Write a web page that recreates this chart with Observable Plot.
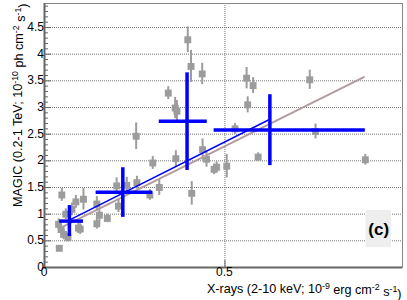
<!DOCTYPE html>
<html>
<head>
<meta charset="utf-8">
<script src="https://cdn.jsdelivr.net/npm/d3@7"></script>
<script src="https://cdn.jsdelivr.net/npm/@observablehq/plot@0.6"></script>
<style>
  html, body { margin: 0; padding: 0; background: #fff; }
</style>
</head>
<body>
<div id="chart"></div>
<script>
// Gray points: X-rays flux, MAGIC flux, MAGIC error
const ptX = [0.041,0.039,0.048,0.046,0.053,0.059,0.065,0.076,0.087,0.094,0.099,0.108,0.145,0.145,0.152,0.174,0.200,0.205,0.228,0.256,0.254,0.292,0.300,0.318,0.343,0.362,0.367,0.364,0.397,0.406,0.437,0.408,0.438,0.449,0.470,0.477,0.505,0.528,0.560,0.578,0.563,0.592,0.735,0.751,0.889];
const ptY = [0.36,0.81,1.36,0.71,0.62,1.00,0.56,1.09,1.23,0.74,0.72,1.28,0.82,1.19,0.98,0.92,1.53,1.15,1.54,1.59,2.46,1.36,1.96,1.50,3.27,2.99,2.93,2.04,4.27,3.77,3.63,1.39,2.21,2.03,1.84,1.88,1.90,2.60,3.55,3.41,3.05,2.07,3.52,2.55,2.02];
const ptE = [0.04,0.10,0.12,0.10,0.10,0.10,0.08,0.12,0.12,0.10,0.10,0.20,0.10,0.14,0.12,0.08,0.15,0.12,0.15,0.12,0.25,0.10,0.12,0.15,0.12,0.20,0.20,0.15,0.24,0.30,0.20,0.22,0.20,0.15,0.10,0.10,0.22,0.10,0.20,0.15,0.15,0.08,0.18,0.14,0.10];

// Binned averages (blue crosses)
const binX  = [0.069, 0.217, 0.395, 0.6245];
const binX1 = [0.042, 0.143, 0.318, 0.470];
const binX2 = [0.108, 0.300, 0.451, 0.889];
const binY  = [0.87, 1.41, 2.74, 2.58];
const binY1 = [0.58, 0.94, 1.82, 1.91];
const binY2 = [1.16, 1.87, 3.65, 3.24];

// Linear fits (end points)
const blueFitX = [0.066, 0.6245];
const blueFitY = [0.88, 2.78];
const brownFitX = [0.050, 0.885];
const brownFitY = [0.763, 3.57];

// Ticks
const yTicks = [0, 0.5, 1, 1.5, 2, 2.5, 3, 3.5, 4, 4.5];
const yMinor = d3.range(0, 50).map(i => i / 10);
const xTicks = [0, 0.5];
const xGrid = [0.5];
const yGrid = [0.5, 1, 1.5, 2, 2.5, 3, 3.5, 4, 4.5];

const points = ptX.map((x, i) => ({x, y: ptY[i], e: ptE[i]}));
const bins = binX.map((x, i) => ({x, x1: binX1[i], x2: binX2[i], y: binY[i], y1: binY1[i], y2: binY2[i]}));
const blueFit = blueFitX.map((x, i) => ({x, y: blueFitY[i]}));
const brownFit = brownFitX.map((x, i) => ({x, y: brownFitY[i]}));

const xDomain = [0, 0.992];
const yDomain = [0, 4.95];
const pxPerX = (402 - 44) / (xDomain[1] - xDomain[0]);
const pxPerY = (267 - 3) / (yDomain[1] - yDomain[0]);

const plot = Plot.plot({
  width: 407,
  height: 300,
  marginLeft: 44,
  marginRight: 5,
  marginTop: 3,
  marginBottom: 33,
  style: {fontFamily: "'Liberation Sans', Arial, Helvetica, sans-serif", fontSize: "12px", background: "#fff"},
  x: {domain: xDomain, axis: null},
  y: {domain: yDomain, axis: null},
  marks: [
    // grid
    Plot.ruleY(yGrid, {stroke: "#777", strokeWidth: 1, strokeDasharray: "1,1"}),
    Plot.ruleX(xGrid, {stroke: "#777", strokeWidth: 1, strokeDasharray: "1,1"}),
    // frame
    Plot.frame({stroke: "#888", strokeWidth: 1}),
    // gray data points
    Plot.ruleX(points, {x: "x", y1: d => d.y - d.e, y2: d => d.y + d.e, stroke: "#9c9c9c", strokeWidth: 2}),
    Plot.dot(points, {x: "x", y: "y", symbol: "square", r: 3.9, fill: "#9c9c9c", stroke: "none"}),
    // fits
    Plot.line(brownFit, {x: "x", y: "y", stroke: "#b29c9c", strokeWidth: 2}),
    Plot.line(blueFit, {x: "x", y: "y", stroke: "#0000ff", strokeWidth: 1.5}),
    // binned crosses
    Plot.ruleY(bins, {y: "y", x1: "x1", x2: "x2", stroke: "#0000ff", strokeWidth: 3.5}),
    Plot.ruleX(bins, {x: "x", y1: "y1", y2: "y2", stroke: "#0000ff", strokeWidth: 3.5}),
    // axis lines
    Plot.ruleX([0], {stroke: "#666", strokeWidth: 2}),
    Plot.ruleY([0], {stroke: "#666", strokeWidth: 2}),
    // y ticks (inward)
    Plot.ruleY(yMinor, {y: d => d, x1: 0, x2: d => (Math.abs(d * 2 - Math.round(d * 2)) < 1e-6 ? 7 : 4) / pxPerX, stroke: "#666", strokeWidth: 1}),
    // x ticks (inward)
    Plot.ruleX(xTicks, {x: d => d, y1: 0, y2: 7 / pxPerY, stroke: "#666", strokeWidth: 1}),
    // tick labels
    Plot.text(yTicks, {x: 0, y: d => d, text: d => d3.format("~g")(d), textAnchor: "end", dx: d => d === 0 ? -4 : -3, dy: d => d === 0 ? -5 : 0, fill: "#000", fontSize: 12}),
    Plot.text(xTicks, {x: d => d, text: d => d3.format("~g")(d), frameAnchor: "bottom", lineAnchor: "top", dx: d => d === 0 ? 3 : 0, dy: d => d === 0 ? 7 : 6, fill: "#000", fontSize: 12}),
    // axis titles
    Plot.text(["X-rays (2-10 keV; 10-9 erg cm-2 s-1)"], {frameAnchor: "bottom-right", textAnchor: "end", lineAnchor: "bottom", dy: 25, dx: -1, fill: "#000", fontSize: 12.6, className: "xlab"}),
    Plot.text(["MAGIC (0.2-1 TeV; 10-10 ph cm-2 s-1)"], {frameAnchor: "top-left", rotate: -90, textAnchor: "end", lineAnchor: "bottom", dx: -23, dy: 0, fill: "#000", fontSize: 12.6, className: "ylab"}),
    // panel label
    Plot.rect([0], {x1: 0.891, x2: 0.961, y1: 0.37, y2: 1.07, fill: "#eeeeee"}),
    Plot.text(["(c)"], {x: 0.926, y: 0.72, fontWeight: "bold", fontSize: 17, fill: "#000"})
  ]
});

document.getElementById("chart").appendChild(plot);

function superscripts(sel, parts) {
  const t = plot.querySelector(sel);
  if (!t) return;
  while (t.firstChild) t.removeChild(t.firstChild);
  const ns = "http://www.w3.org/2000/svg";
  let raised = false;
  for (const [s, sup] of parts) {
    const ts = document.createElementNS(ns, "tspan");
    ts.textContent = s;
    if (sup && !raised) { ts.setAttribute("dy", "-0.45em"); ts.setAttribute("font-size", "70%"); raised = true; }
    else if (sup) { ts.setAttribute("font-size", "70%"); }
    else if (!sup && raised) { ts.setAttribute("dy", "0.45em"); raised = false; }
    t.appendChild(ts);
  }
}
superscripts("g.xlab text", [["X-rays (2-10 keV; 10", false], ["-9", true], [" erg cm", false], ["-2", true], [" s", false], ["-1", true], [")", false]]);
superscripts("g.ylab text", [["MAGIC (0.2-1 TeV; 10", false], ["-10", true], [" ph cm", false], ["-2", true], [" s", false], ["-1", true], [")", false]]);
</script>
</body>
</html>
